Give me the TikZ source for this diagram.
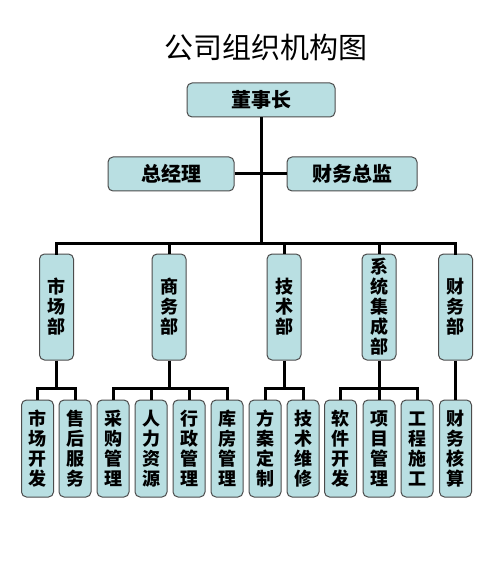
\documentclass[tikz,border=0pt]{standalone}
\usepackage{fontspec}
\setmainfont{Noto Sans CJK SC}
\tikzset{
  box/.style={draw=black!70, line width=1pt, fill=boxblue, rounded corners=5pt,
    inner sep=0pt, align=center, font=\fontsize{18}{20}\selectfont\bfseries},
  topbox/.style={box, minimum height=34pt, font=\fontsize{20}{22}\selectfont\bfseries},
  deptbox/.style={box, minimum width=34pt, minimum height=106pt},
  leafbox/.style={box, minimum width=32pt, minimum height=97pt},
  conn/.style={line width=3pt, black},
}
\definecolor{boxblue}{HTML}{B9DFE2}
\begin{document}
\begin{tikzpicture}[x=1pt, y=-1pt]
    \useasboundingbox[fill=white] (0,0) rectangle (498,569);
    % Title
    \node[font=\fontsize{29}{30}\selectfont] (title) at (266,47) {公司组织机构图};

    % Top level
    \node[topbox, minimum width=148pt] (chair) at (261,100) {董事长};
    \node[topbox, minimum width=126pt] (gm) at (171,174) {总经理};
    \node[topbox, minimum width=130pt] (cfo) at (352,174) {财务总监};

    % Departments
    \node[deptbox] (d1) at (56.5,307) {市\\场\\部};
    \node[deptbox] (d2) at (169,307) {商\\务\\部};
    \node[deptbox] (d3) at (284,307) {技\\术\\部};
    \node[deptbox] (d4) at (379,307) {系\\统\\集\\成\\部};
    \node[deptbox] (d5) at (455.5,307) {财\\务\\部};

    % Sections
    \node[leafbox] (l1) at (37.5,448.5) {市\\场\\开\\发};
    \node[leafbox] (l2) at (75,448.5) {售\\后\\服\\务};
    \node[leafbox] (l3) at (113,448.5) {采\\购\\管\\理};
    \node[leafbox] (l4) at (151,448.5) {人\\力\\资\\源};
    \node[leafbox] (l5) at (189,448.5) {行\\政\\管\\理};
    \node[leafbox] (l6) at (227,448.5) {库\\房\\管\\理};
    \node[leafbox] (l7) at (265,448.5) {方\\案\\定\\制};
    \node[leafbox] (l8) at (303,448.5) {技\\术\\维\\修};
    \node[leafbox] (l9) at (340.5,448.5) {软\\件\\开\\发};
    \node[leafbox] (l10) at (379,448.5) {项\\目\\管\\理};
    \node[leafbox] (l11) at (417,448.5) {工\\程\\施\\工};
    \node[leafbox] (l12) at (455.5,448.5) {财\\务\\核\\算};

    % Main trunk
    \coordinate (bus) at (261,243);
    \draw[conn] (chair.south) -- (bus);
    \draw[conn] (gm.east) -- (cfo.west);
    \draw[conn, line cap=rect] (d1.north) |- (bus) -| (d5.north);
    \draw[conn] (d2.north) -- (d2.north |- bus);
    \draw[conn] (d3.north) -- (d3.north |- bus);
    \draw[conn] (d4.north) -- (d4.north |- bus);

    % Branches
    \draw[conn] (d1.south) -- ++(0,28) coordinate (s1);
    \draw[conn] (l1.north) |- (s1) -| (l2.north);
    \draw[conn] (d2.south) -- ++(0,28) coordinate (s2);
    \draw[conn] (l3.north) |- (s2) -| (l6.north);
    \draw[conn] (l4.north) -- (l4.north |- s2);
    \draw[conn] (l5.north) -- (l5.north |- s2);
    \draw[conn] (d3.south) -- ++(0,28) coordinate (s3);
    \draw[conn] (l7.north) |- (s3) -| (l8.north);
    \draw[conn] (d4.south) -- ++(0,28) coordinate (s4);
    \draw[conn] (l9.north) |- (s4) -| (l11.north);
    \draw[conn] (l10.north) -- (l10.north |- s4);
    \draw[conn] (d5.south) -- (l12.north);
  \end{tikzpicture}
\end{document}
